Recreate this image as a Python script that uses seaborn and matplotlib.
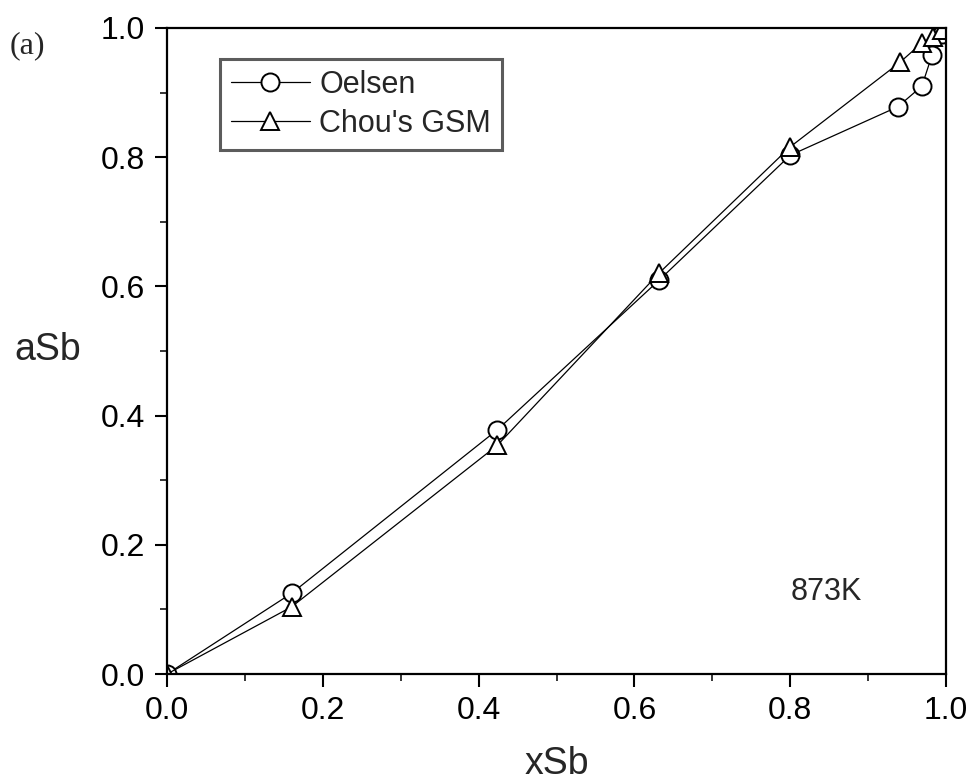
import matplotlib
matplotlib.use("Agg")
import matplotlib.pyplot as plt
import seaborn as sns
import pandas as pd
from matplotlib.ticker import MultipleLocator

# Data
oelsen_x = [0.0, 0.160, 0.424, 0.632, 0.800, 0.938, 0.969, 0.982, 0.995]
oelsen_y = [0.0, 0.125, 0.378, 0.610, 0.803, 0.878, 0.910, 0.958, 0.990]
chou_x = [0.0, 0.160, 0.424, 0.632, 0.800, 0.941, 0.969, 0.983, 0.995]
chou_y = [0.0, 0.104, 0.354, 0.621, 0.816, 0.947, 0.977, 0.986, 0.997]
series_names = ["Oelsen", "Chou's GSM"]
x_ticks = [0.0, 0.2, 0.4, 0.6, 0.8, 1.0]
y_ticks = [0.0, 0.2, 0.4, 0.6, 0.8, 1.0]

df = pd.concat([
    pd.DataFrame({"xSb": oelsen_x, "aSb": oelsen_y, "series": series_names[0]}),
    pd.DataFrame({"xSb": chou_x, "aSb": chou_y, "series": series_names[1]}),
])

sns.set_theme(style="white")
plt.rcParams['font.family'] = ['Liberation Sans', 'DejaVu Sans']

fig = plt.figure(figsize=(9.75, 7.82), dpi=100)
ax = fig.add_axes([0.1713, 0.1381, 0.7990, 0.8261])

sns.lineplot(data=df, x="xSb", y="aSb", style="series", markers=["o", "^"],
             dashes=False, color="black", linewidth=0.9, markersize=13,
             markerfacecolor="white", markeredgecolor="black", markeredgewidth=1.4,
             sort=False, estimator=None, ax=ax)

ax.set_xlim(0, 1)
ax.set_ylim(0, 1)
ax.set_xticks(x_ticks)
ax.set_yticks(y_ticks)
ax.set_xticklabels([f"{v:.1f}" for v in x_ticks])
ax.set_yticklabels([f"{v:.1f}" for v in y_ticks])
ax.xaxis.set_minor_locator(MultipleLocator(0.1))
ax.yaxis.set_minor_locator(MultipleLocator(0.1))
ax.tick_params(axis="both", which="major", direction="out", length=9, width=1.5,
               labelsize=23, colors="black", bottom=True, left=True)
ax.tick_params(axis="x", which="major", pad=7)
ax.tick_params(axis="y", which="major", pad=7)
ax.tick_params(axis="both", which="minor", direction="out", length=5, width=1.3,
               bottom=True, left=True)
for s in ax.spines.values():
    s.set_color("black")
    s.set_linewidth(1.6)
    s.set_visible(True)

ax.set_xlabel("xSb", fontsize=27, labelpad=14)
ax.set_ylabel("")
fig.text(0.049, 0.553, "aSb", fontsize=27, ha="center", va="center")

ax.text(0.846, 0.127, "873K", fontsize=22, ha="center", va="center", transform=ax.transData)
fig.text(0.010, 0.942, "(a)", fontsize=23, family=["Liberation Serif", "DejaVu Serif"],
         ha="left", va="center")

handles, labels = ax.get_legend_handles_labels()
leg = ax.legend(handles, labels, loc="upper left", bbox_to_anchor=(0.068, 0.952),
                borderaxespad=0, fontsize=22, handlelength=2.6, handletextpad=0.3,
                labelspacing=0.3, borderpad=0.35, frameon=True, fancybox=False)
leg.get_frame().set_edgecolor("#333333")
leg.get_frame().set_linewidth(2.2)

fig.savefig("out.png", dpi=100, facecolor="white")
